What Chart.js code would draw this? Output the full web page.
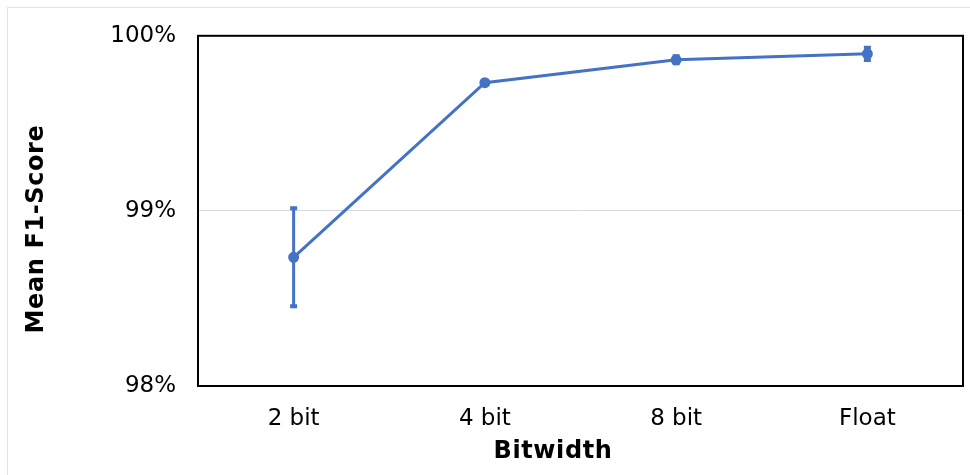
<!DOCTYPE html>
<html>
<head>
<meta charset="utf-8">
<script src="https://cdn.jsdelivr.net/npm/chart.js@4"></script>
<style>
  html, body { margin: 0; padding: 0; background: #fff; }
  #wrap { position: relative; width: 970px; height: 475px; }
  #frame { position: absolute; left: 7px; top: 7px; right: -4px; bottom: -4px;
           border-top: 1.5px solid #e2e2e2; border-left: 1.5px solid #e2e2e2; pointer-events: none; }
  canvas { position: absolute; left: 0; top: 0; }
</style>
</head>
<body>
<div id="wrap">
  <canvas id="c" width="970" height="475"></canvas>
  <div id="frame"></div>
</div>
<script>
// Mean F1-score per quantisation bitwidth, with standard-deviation bars
const categories = ['2 bit', '4 bit', '8 bit', 'Float'];
const meanF1 = [98.735, 99.732, 99.863, 99.897];
const errF1 = [0.28, 0.01, 0.02, 0.035];
const yTicks = [98, 99, 100];
const xTitle = 'Bitwidth';
const yTitle = 'Mean F1-Score';

const BLUE = '#4472C4';
const TITLE_FONT = 'bold 24px "DejaVu Sans"';

// Error bars drawn through the chart's own scales
const errorBars = {
  id: 'errorBars',
  afterDatasetsDraw(chart) {
    const { ctx, scales: { x, y } } = chart;
    ctx.save();
    ctx.strokeStyle = BLUE;
    ctx.lineWidth = 3;
    meanF1.forEach((m, i) => {
      const px = x.getPixelForValue(i);
      const top = y.getPixelForValue(m + errF1[i]);
      const bot = y.getPixelForValue(m - errF1[i]);
      ctx.beginPath();
      ctx.moveTo(px, top); ctx.lineTo(px, bot);
      ctx.stroke();
      ctx.lineWidth = 4;
      ctx.beginPath();
      ctx.moveTo(px - 3.5, top); ctx.lineTo(px + 3.5, top);
      ctx.moveTo(px - 3.5, bot); ctx.lineTo(px + 3.5, bot);
      ctx.stroke();
      ctx.lineWidth = 3;
    });
    ctx.restore();
  }
};

// Black frame around the plotting area and the two axis titles
const frameAndTitles = {
  id: 'frameAndTitles',
  afterDraw(chart) {
    const { ctx, chartArea: a } = chart;
    ctx.save();
    ctx.strokeStyle = '#000';
    ctx.lineWidth = 2;
    ctx.strokeRect(a.left, a.top, a.right - a.left, a.bottom - a.top);

    ctx.fillStyle = '#000';
    ctx.font = TITLE_FONT;
    ctx.letterSpacing = '0.6px';
    ctx.textAlign = 'center';
    ctx.textBaseline = 'middle';
    ctx.fillText(xTitle, 553, 452);

    ctx.translate(37, 229);
    ctx.rotate(-Math.PI / 2);
    ctx.fillText(yTitle, 0, 0);
    ctx.restore();
  }
};

new Chart(document.getElementById('c'), {
  type: 'line',
  data: {
    labels: categories,
    datasets: [{
      data: meanF1,
      borderColor: BLUE,
      backgroundColor: BLUE,
      borderWidth: 3,
      pointRadius: 4,
      pointHoverRadius: 4,
      tension: 0,
      fill: false
    }]
  },
  options: {
    responsive: false,
    animation: false,
    layout: { padding: { left: 0, top: 35, right: 5, bottom: 0 } },
    plugins: { legend: { display: false }, tooltip: { enabled: false } },
    scales: {
      x: {
        offset: true,
        grid: { display: false, drawTicks: false },
        border: { display: false },
        ticks: { color: '#000', padding: 19, font: { family: 'DejaVu Sans', size: 23 } },
        afterFit(s) { s.height = 89; }
      },
      y: {
        min: 98, max: 100,
        afterBuildTicks(s) { s.ticks = yTicks.map(v => ({ value: v })); },
        grid: { color: '#d9d9d9', lineWidth: 1, drawTicks: false },
        border: { display: false },
        ticks: {
          color: '#000', padding: 22,
          font: { family: 'DejaVu Sans', size: 23 },
          callback: v => v + '%'
        },
        afterFit(s) { s.width = 198; }
      }
    }
  },
  plugins: [errorBars, frameAndTitles]
});
</script>
</body>
</html>
